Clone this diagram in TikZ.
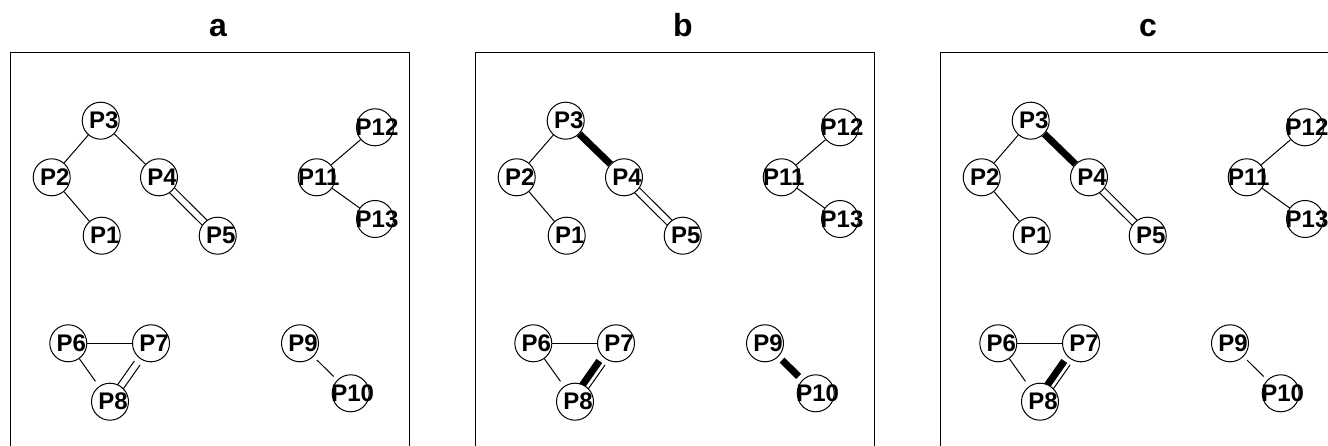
\documentclass[tikz,border=0pt]{standalone}
\usepackage{fontspec}
\setmainfont{Liberation Sans}
\usetikzlibrary{calc,backgrounds}
\tikzset{
  vtx/.style={circle, draw, fill=white, line width=1pt, minimum size=37pt, inner sep=0pt},
  lbl/.style={font=\fontsize{24}{24}\selectfont\bfseries, inner sep=0pt, xshift=3pt},
  ttl/.style={font=\fontsize{32}{32}\selectfont\bfseries, anchor=base, inner sep=0pt},
  thinedge/.style={line width=1pt},
  thickedge/.style={line width=7pt},
  frame/.style={line width=1pt}
}
% #1 xshift, #2 panel name, #3 style of P3-P4, #4 style of left P7-P8 line, #5 style of P9-P10
\newcommand\drawpanel[5]{%
\begin{scope}[xshift=#1, name prefix=#2-]
  \node[ttl] (title) at (218,37) {#2};
  \draw[frame] (10,53) rectangle (409,480);
  \node[vtx,label={[lbl]center:P1}] (P1) at (101.7,235.7) {};
  \node[vtx,label={[lbl]center:P2}] (P2) at (51.7,177.3) {};
  \node[vtx,label={[lbl]center:P3}] (P3) at (100.7,120.7) {};
  \node[vtx,label={[lbl]center:P4}] (P4) at (159,177.3) {};
  \node[vtx,label={[lbl]center:P5}] (P5) at (217.7,235.7) {};
  \node[vtx,label={[lbl]center:P6}] (P6) at (68.3,343.3) {};
  \node[vtx,label={[lbl]center:P7}] (P7) at (151,343.3) {};
  \node[vtx,label={[lbl]center:P8}] (P8) at (110,401.7) {};
  \node[vtx,label={[lbl]center:P9}] (P9) at (300,343.3) {};
  \node[vtx,label={[lbl,xshift=-1pt]center:P10}] (P10) at (350.7,393.3) {};
  \node[vtx,label={[lbl,xshift=-1pt]center:P11}] (P11) at (316.7,177.3) {};
  \node[vtx,label={[lbl,xshift=-1pt]center:P12}] (P12) at (375,127.3) {};
  \node[vtx,label={[lbl,xshift=-1pt]center:P13}] (P13) at (375,219) {};
  \begin{pgfonlayer}{background}
    \draw[thinedge] (P3) -- (P2);
    \draw[thinedge] (P2) -- (P1);
    \draw[#3] (P3) -- (P4);
    \draw[thinedge] ($(P4)!3.5pt!90:(P5)$) -- ($(P5)!3.5pt!-90:(P4)$);
    \draw[thinedge] ($(P4)!3.5pt!-90:(P5)$) -- ($(P5)!3.5pt!90:(P4)$);
    \draw[thinedge] (P11) -- (P12);
    \draw[thinedge] (P11) -- (P13);
    \draw[thinedge] (P6) -- (P7);
    \draw[thinedge, shorten >=6pt] (P6) -- (P8);
    \draw[#4, shorten <=24pt] ($(P7)!3.5pt!-90:(P8)$) -- ($(P8)!3.5pt!90:(P7)$);
    \draw[thinedge, shorten <=24pt] ($(P7)!3.5pt!90:(P8)$) -- ($(P8)!3.5pt!-90:(P7)$);
    \draw[#5, shorten <=5pt, shorten >=5pt] (P9) -- (P10);
  \end{pgfonlayer}
\end{scope}}
\begin{document}
\begin{tikzpicture}[x=1pt, y=-1pt]
  \useasboundingbox (0,0) rectangle (1328,446);
  \clip (0,0) rectangle (1328,446);
  \drawpanel{0pt}{a}{thinedge}{thinedge}{thinedge}
  \drawpanel{465pt}{b}{thickedge}{thickedge}{thickedge}
  \drawpanel{930pt}{c}{thickedge}{thickedge}{thinedge}
\end{tikzpicture}
\end{document}
